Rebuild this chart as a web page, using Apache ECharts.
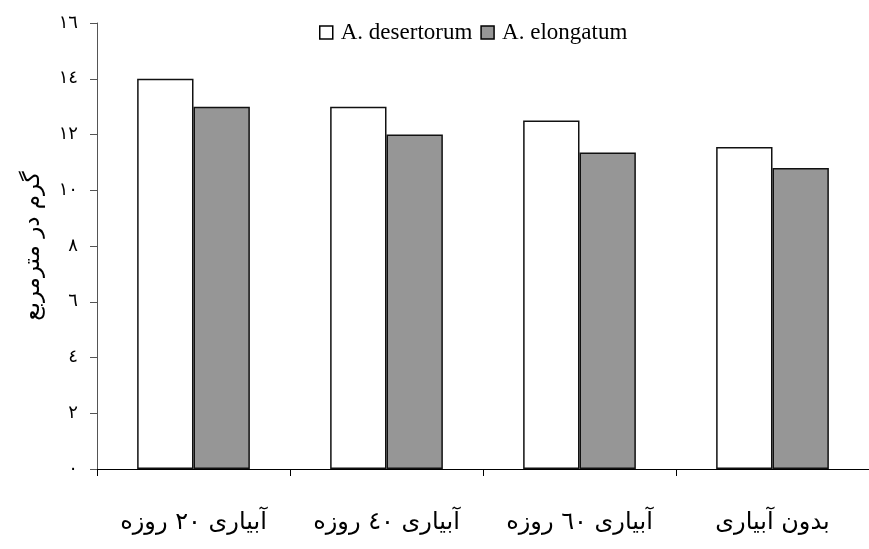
<!DOCTYPE html>
<html>
<head>
<meta charset="utf-8">
<script src="https://cdn.jsdelivr.net/npm/echarts@6/dist/echarts.min.js"></script>
<style>html,body{margin:0;padding:0;background:#fff;}#c{width:869px;height:549px;}</style>
</head>
<body>
<div id="c"></div>
<script>
var categories = ['آبیاری ٢٠ روزه', 'آبیاری ٤٠ روزه', 'آبیاری ٦٠ روزه', 'بدون آبیاری'];
var seriesNames = ['A. desertorum', 'A. elongatum'];
var desertorum = [14.0, 13.0, 12.5, 11.55];
var elongatum = [13.0, 12.0, 11.35, 10.8];
var yTickValues = [0, 2, 4, 6, 8, 10, 12, 14, 16];
var yTickLabels = ['٠', '٢', '٤', '٦', '٨', '١٠', '١٢', '١٤', '١٦'];
var yAxisTitle = 'گرم در مترمربع';

var chart = echarts.init(document.getElementById('c'), null, {renderer: 'canvas'});
chart.setOption({
  animation: false,
  backgroundColor: '#fff',
  legend: {
    top: 16, left: 314,
    itemWidth: 13, itemHeight: 13, itemGap: 8,
    itemStyle: {borderColor: '#000', borderWidth: 1.5},
    textStyle: {fontFamily: 'Liberation Serif', fontSize: 23, color: '#000', padding: [0, 0, 0, 3]},
    data: seriesNames.map(function (n) { return {name: n, icon: 'rect'}; })
  },
  grid: {left: 97, right: -2, top: 23, bottom: 80, containLabel: false},
  xAxis: {
    type: 'category',
    data: categories,
    axisLine: {lineStyle: {color: '#000', width: 1}},
    axisTick: {show: true, alignWithLabel: false, length: 7, lineStyle: {color: '#000'}},
    axisLabel: {color: '#000', fontSize: 24, fontFamily: 'DejaVu Sans', margin: 42}
  },
  yAxis: {
    type: 'value', min: 0, max: 16, interval: 2,
    name: yAxisTitle, nameLocation: 'middle', nameRotate: 90, nameGap: 52,
    nameTextStyle: {color: '#000', fontSize: 23, fontFamily: 'DejaVu Sans'},
    splitLine: {show: false},
    axisLine: {show: true, lineStyle: {color: '#555', width: 1}},
    axisTick: {show: true, length: 7, lineStyle: {color: '#555'}},
    axisLabel: {
      color: '#000', fontSize: 18, fontFamily: 'DejaVu Sans', margin: 19,
      formatter: function (v) { var i = yTickValues.indexOf(v); return i >= 0 ? yTickLabels[i] : ''; }
    }
  },
  series: [
    {name: seriesNames[0], type: 'bar', data: desertorum, barGap: '0%', barCategoryGap: '41.6%',
     itemStyle: {color: '#ffffff', borderColor: '#111', borderWidth: 1.5}},
    {name: seriesNames[1], type: 'bar', data: elongatum,
     itemStyle: {color: '#969696', borderColor: '#111', borderWidth: 1.5}}
  ]
});
</script>
</body>
</html>
